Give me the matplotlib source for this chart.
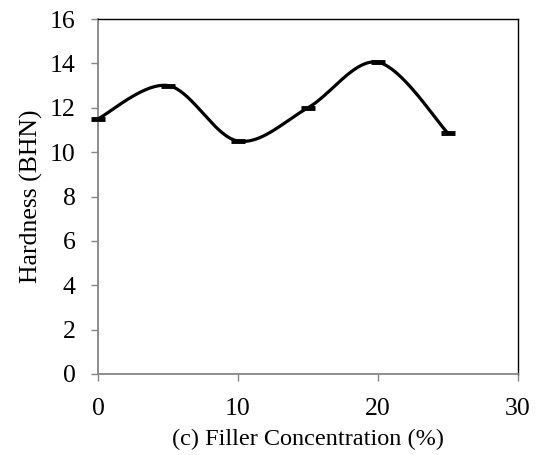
import numpy as np
import matplotlib
matplotlib.use('Agg')
import matplotlib.pyplot as plt

plt.rcParams['font.family'] = ['Liberation Serif', 'DejaVu Serif']

# Data
filler_pct = [0, 5, 10, 15, 20, 25]
hardness = [11.5, 13.0, 10.5, 12.0, 14.05, 10.85]
x_ticks = [0, 10, 20, 30]
y_ticks = [0, 2, 4, 6, 8, 10, 12, 14, 16]


def smooth_line(xs, ys, n=40):
    # Excel-like smoothed line: Catmull-Rom segments as cubic Bezier
    pts = np.column_stack([xs, ys]).astype(float)
    padded = np.vstack([pts[0], pts, pts[-1]])
    out = []
    t = np.linspace(0, 1, n)[:, None]
    for i in range(1, len(padded) - 2):
        p0, p1, p2, p3 = padded[i - 1], padded[i], padded[i + 1], padded[i + 2]
        c1 = p1 + (p2 - p0) / 6
        c2 = p2 - (p3 - p1) / 6
        seg = ((1 - t) ** 3) * p1 + 3 * ((1 - t) ** 2) * t * c1 + 3 * (1 - t) * t ** 2 * c2 + t ** 3 * p2
        out.append(seg if i == 1 else seg[1:])
    seg_all = np.vstack(out)
    return seg_all[:, 0], seg_all[:, 1]


fig = plt.figure(figsize=(5.36, 4.55), dpi=100)
ax = fig.add_axes([98 / 536, 1 - 374 / 455, 420 / 536, 355 / 455])

sx, sy = smooth_line(filler_pct, hardness)
ax.plot(sx, sy, color='black', linewidth=2.3, solid_capstyle='round', zorder=3)
ax.plot(filler_pct, hardness, linestyle='none', marker='_', markersize=10,
        markeredgewidth=3.5, color='black', zorder=4, clip_on=False)

ax.set_xlim(0, 30)
ax.set_ylim(0, 16)
ax.set_xticks(x_ticks)
ax.set_yticks(y_ticks)

for side in ['left', 'bottom']:
    ax.spines[side].set_color('#868686')
    ax.spines[side].set_linewidth(1.3)
for side in ['top', 'right']:
    ax.spines[side].set_color('black')
    ax.spines[side].set_linewidth(1.0)

ax.tick_params(axis='both', direction='out', length=5, width=1, color='#868686',
               labelsize=18.5)
ax.tick_params(axis='y', pad=11)
ax.tick_params(axis='x', pad=12)

ax.set_ylabel('Hardness (BHN)', fontsize=18.5, labelpad=5)
ax.set_xlabel('(c) Filler Concentration (%)', fontsize=17.5, labelpad=7)

fig.savefig('out.png', dpi=100)
